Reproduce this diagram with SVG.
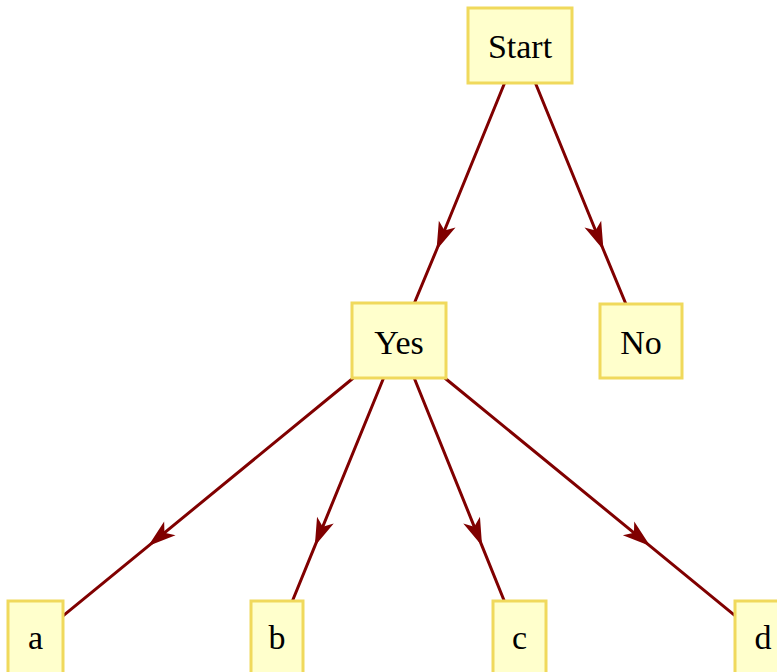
<svg xmlns="http://www.w3.org/2000/svg" width="777" height="672" viewBox="0 0 777 672">
<style>
.node rect{fill:#ffffcc;stroke:#f0d95c;stroke-width:3}
.node text{font-family:"Liberation Serif","Times New Roman",serif;font-size:34px;fill:#000;text-anchor:middle}
.edge{fill:none;stroke:#800000;stroke-width:3;marker-mid:url(#ah)}
</style>
<defs>
<marker id="ah" markerUnits="userSpaceOnUse" markerWidth="36" markerHeight="24" viewBox="-30 -12 36 24" refX="0" refY="0" orient="auto">
<path d="M0,0 L-28,-9 L-21,0 L-28,9 Z" fill="#800000"/>
</marker>
</defs>
<rect width="777" height="672" fill="#fff"/>
<g id="connectors">
<path class="edge" d="M504.6,83 L436.5,250 L414.4,303"/>
<path class="edge" d="M535.4,83 L603.5,250 L625.9,304"/>
<path class="edge" d="M353.3,378 L148.2,546.1 L63,615.9"/>
<path class="edge" d="M383.6,378 L314.8,546.1 L292.4,601"/>
<path class="edge" d="M414.2,378 L482.1,546.1 L504.3,601"/>
<path class="edge" d="M444.8,378 L650.2,546.1 L735,615.6"/>
</g>
<g id="node-start" class="node"><rect x="468" y="8" width="104" height="75"/><text x="520" y="57.5">Start</text></g>
<g id="node-yes" class="node"><rect x="352" y="303" width="94" height="75"/><text x="399" y="353.5">Yes</text></g>
<g id="node-no" class="node"><rect x="600" y="304" width="82" height="74"/><text x="641" y="353.5">No</text></g>
<g id="node-a" class="node"><rect x="8" y="601" width="55" height="75"/><text x="35.5" y="648.5">a</text></g>
<g id="node-b" class="node"><rect x="251" y="601" width="52" height="75"/><text x="277" y="648.5">b</text></g>
<g id="node-c" class="node"><rect x="493" y="601" width="53" height="75"/><text x="519.5" y="648.5">c</text></g>
<g id="node-d" class="node"><rect x="735" y="601" width="56" height="75"/><text x="763" y="648.5">d</text></g>
</svg>
